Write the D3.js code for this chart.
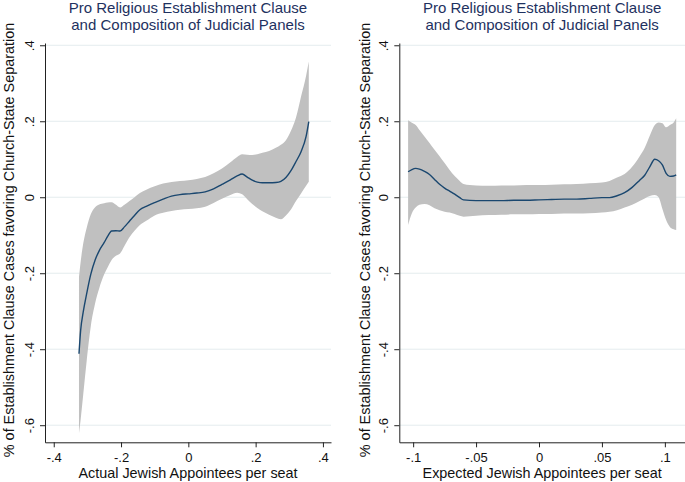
<!DOCTYPE html>
<html>
<head>
<meta charset="utf-8">
<script src="https://cdn.jsdelivr.net/npm/d3@7"></script>
<style>
  body { margin: 0; background: #fff; }
  svg { font-family: "Liberation Sans", Arial, sans-serif; }
</style>
</head>
<body>
<svg width="685" height="482"></svg>
<script>
// panel titles / axis titles
var titleLines = ['Pro Religious Establishment Clause', 'and Composition of Judicial Panels'];
var yTitle = '% of Establishment Clause Cases favoring Church-State Separation';
var leftXTitle = 'Actual Jewish Appointees per seat';
var rightXTitle = 'Expected Jewish Appointees per seat';

// y ticks shared by both panels
var yTicks = [-0.6, -0.4, -0.2, 0, 0.2, 0.4];
var yTickLabels = ['-.6', '-.4', '-.2', '0', '.2', '.4'];

// x ticks
var leftXTicks = [-0.4, -0.2, 0, 0.2, 0.4];
var leftXTickLabels = ['-.4', '-.2', '0', '.2', '.4'];
var rightXTicks = [-0.1, -0.05, 0, 0.05, 0.1];
var rightXTickLabels = ['-.1', '-.05', '0', '.05', '.1'];

// left panel: actual appointees, fitted line and 95% band
var leftX = [-0.325, -0.32, -0.312, -0.302, -0.29, -0.277, -0.265, -0.25, -0.24, -0.228, -0.215, -0.203, -0.19, -0.175, -0.16, -0.144, -0.125, -0.1, -0.075, -0.05, -0.025, 0, 0.025, 0.05, 0.075, 0.1, 0.125, 0.145, 0.16, 0.175, 0.19, 0.205, 0.22, 0.24, 0.26, 0.275, 0.29, 0.305, 0.32, 0.335, 0.35, 0.358];
var leftFit = [-0.412, -0.35, -0.3, -0.253, -0.203, -0.165, -0.141, -0.119, -0.103, -0.089, -0.088, -0.089, -0.078, -0.063, -0.048, -0.033, -0.024, -0.014, -0.005, 0.003, 0.007, 0.009, 0.011, 0.014, 0.022, 0.034, 0.046, 0.056, 0.061, 0.053, 0.045, 0.04, 0.038, 0.038, 0.039, 0.042, 0.052, 0.07, 0.094, 0.12, 0.16, 0.199];
var leftUpper = [-0.21, -0.17, -0.12, -0.08, -0.045, -0.026, -0.019, -0.016, -0.014, -0.013, -0.02, -0.027, -0.02, -0.01, 0.0, 0.011, 0.02, 0.029, 0.036, 0.04, 0.043, 0.045, 0.048, 0.053, 0.063, 0.076, 0.092, 0.106, 0.113, 0.112, 0.111, 0.113, 0.117, 0.122, 0.13, 0.138, 0.15, 0.175, 0.21, 0.265, 0.32, 0.357];
var leftLower = [-0.621, -0.585, -0.516, -0.43, -0.34, -0.279, -0.24, -0.203, -0.185, -0.165, -0.154, -0.148, -0.128, -0.105, -0.088, -0.073, -0.062, -0.048, -0.041, -0.036, -0.033, -0.031, -0.029, -0.025, -0.015, -0.004, 0.006, 0.012, 0.008, -0.005, -0.018, -0.028, -0.037, -0.046, -0.054, -0.058, -0.048, -0.032, -0.01, 0.01, 0.03, 0.041];

// right panel: expected appointees
var rightX = [-0.104, -0.101, -0.098, -0.095, -0.091, -0.087, -0.083, -0.079, -0.075, -0.071, -0.067, -0.063, -0.06, -0.05, -0.04, -0.03, -0.02, -0.01, 0, 0.01, 0.02, 0.03, 0.04, 0.05, 0.056, 0.062, 0.068, 0.074, 0.08, 0.084, 0.088, 0.092, 0.095, 0.098, 0.101, 0.104, 0.107, 0.109];
var rightFit = [0.067, 0.073, 0.076, 0.074, 0.068, 0.06, 0.047, 0.034, 0.024, 0.016, 0.008, -0.001, -0.007, -0.009, -0.009, -0.009, -0.008, -0.008, -0.007, -0.006, -0.005, -0.005, -0.003, -0.001, -0.001, 0.004, 0.012, 0.026, 0.045, 0.058, 0.08, 0.1, 0.096, 0.085, 0.063, 0.055, 0.056, 0.059];
var rightUpper = [0.203, 0.196, 0.19, 0.177, 0.16, 0.143, 0.125, 0.108, 0.09, 0.072, 0.056, 0.043, 0.035, 0.031, 0.03, 0.031, 0.031, 0.032, 0.032, 0.033, 0.034, 0.035, 0.037, 0.039, 0.043, 0.052, 0.061, 0.08, 0.108, 0.13, 0.162, 0.19, 0.197, 0.195, 0.184, 0.19, 0.197, 0.208];
var rightLower = [-0.073, -0.042, -0.027, -0.02, -0.018, -0.021, -0.029, -0.034, -0.038, -0.04, -0.044, -0.049, -0.051, -0.049, -0.047, -0.046, -0.045, -0.045, -0.044, -0.044, -0.043, -0.043, -0.042, -0.04, -0.038, -0.034, -0.027, -0.02, -0.01, -0.003, 0.003, 0.006, 0.0, -0.03, -0.06, -0.078, -0.084, -0.086];

var svg = d3.select('svg');
svg.append('rect').attr('width', 685).attr('height', 482).attr('fill', '#fff');

// y scale is the same for both panels
var yScale = d3.scaleLinear().domain([-0.645, 0.406]).range([442.3, 43]);

drawPanel({
    xScale: d3.scaleLinear().domain([-0.426, 0.424]).range([45, 331]),
    xs: leftX, fit: leftFit, upper: leftUpper, lower: leftLower,
    xTicks: leftXTicks, xTickLabels: leftXTickLabels, xTitle: leftXTitle,
    yTitleX: 13.5
});
drawPanel({
    xScale: d3.scaleLinear().domain([-0.111, 0.116]).range([399.3, 685]),
    xs: rightX, fit: rightFit, upper: rightUpper, lower: rightLower,
    xTicks: rightXTicks, xTickLabels: rightXTickLabels, xTitle: rightXTitle,
    yTitleX: 369.5
});

function drawPanel(p) {
    var x = p.xScale;
    var x0 = x.range()[0], x1 = x.range()[1];
    var cx = (x0 + x1) / 2;
    var g = svg.append('g');

    // gridlines
    g.selectAll('.grid')
        .data(yTicks)
        .enter().append('line')
        .attr('x1', x0).attr('x2', x1)
        .attr('y1', d => yScale(d)).attr('y2', d => yScale(d))
        .attr('stroke', '#e4ecee')
        .attr('stroke-width', 1);

    var pts = p.xs.map((v, i) => ({x: v, fit: p.fit[i], hi: p.upper[i], lo: p.lower[i]}));

    // confidence band
    var area = d3.area()
        .x(d => x(d.x))
        .y0(d => yScale(d.lo))
        .y1(d => yScale(d.hi))
        .curve(d3.curveMonotoneX);
    g.append('path')
        .datum(pts)
        .attr('d', area)
        .attr('fill', '#c0c0c0');

    // fitted line
    var line = d3.line()
        .x(d => x(d.x))
        .y(d => yScale(d.fit))
        .curve(d3.curveMonotoneX);
    g.append('path')
        .datum(pts)
        .attr('d', line)
        .attr('fill', 'none')
        .attr('stroke', '#1a476f')
        .attr('stroke-width', 1.4);

    // x axis
    var xAxis = d3.axisBottom(x)
        .tickValues(p.xTicks)
        .tickFormat((d, i) => p.xTickLabels[i])
        .tickSize(5).tickSizeOuter(0).tickPadding(5.5);
    var xg = g.append('g')
        .attr('transform', 'translate(0,' + yScale.range()[0] + ')')
        .call(xAxis);
    xg.selectAll('text').style('font-size', '13px').attr('fill', '#111');

    // y axis, labels turned on their side like Stata does
    var yAxis = d3.axisLeft(yScale)
        .tickValues(yTicks)
        .tickFormat((d, i) => yTickLabels[i])
        .tickSize(5).tickSizeOuter(0);
    var yg = g.append('g')
        .attr('transform', 'translate(' + x0 + ',0)')
        .call(yAxis);
    yg.selectAll('text')
        .attr('transform', 'rotate(-90)')
        .attr('x', 0).attr('y', -11.5).attr('dy', 0)
        .style('text-anchor', 'middle')
        .style('font-size', '13px')
        .attr('fill', '#111');
    svg.selectAll('.domain, .tick line').attr('stroke', '#222');

    // titles
    g.selectAll('.title')
        .data(titleLines)
        .enter().append('text')
        .attr('x', cx)
        .attr('y', (d, i) => 12.5 + i * 17)
        .style('text-anchor', 'middle')
        .style('font-size', '15px')
        .attr('fill', '#1e3160')
        .text(d => d);

    g.append('text')
        .attr('x', cx).attr('y', 478)
        .style('text-anchor', 'middle')
        .style('font-size', '14.4px')
        .attr('fill', '#111')
        .text(p.xTitle);

    g.append('text')
        .attr('transform', 'translate(' + p.yTitleX + ',240) rotate(-90)')
        .style('text-anchor', 'middle')
        .style('font-size', '14.4px')
        .attr('fill', '#111')
        .text(yTitle);
}
</script>
</body>
</html>
